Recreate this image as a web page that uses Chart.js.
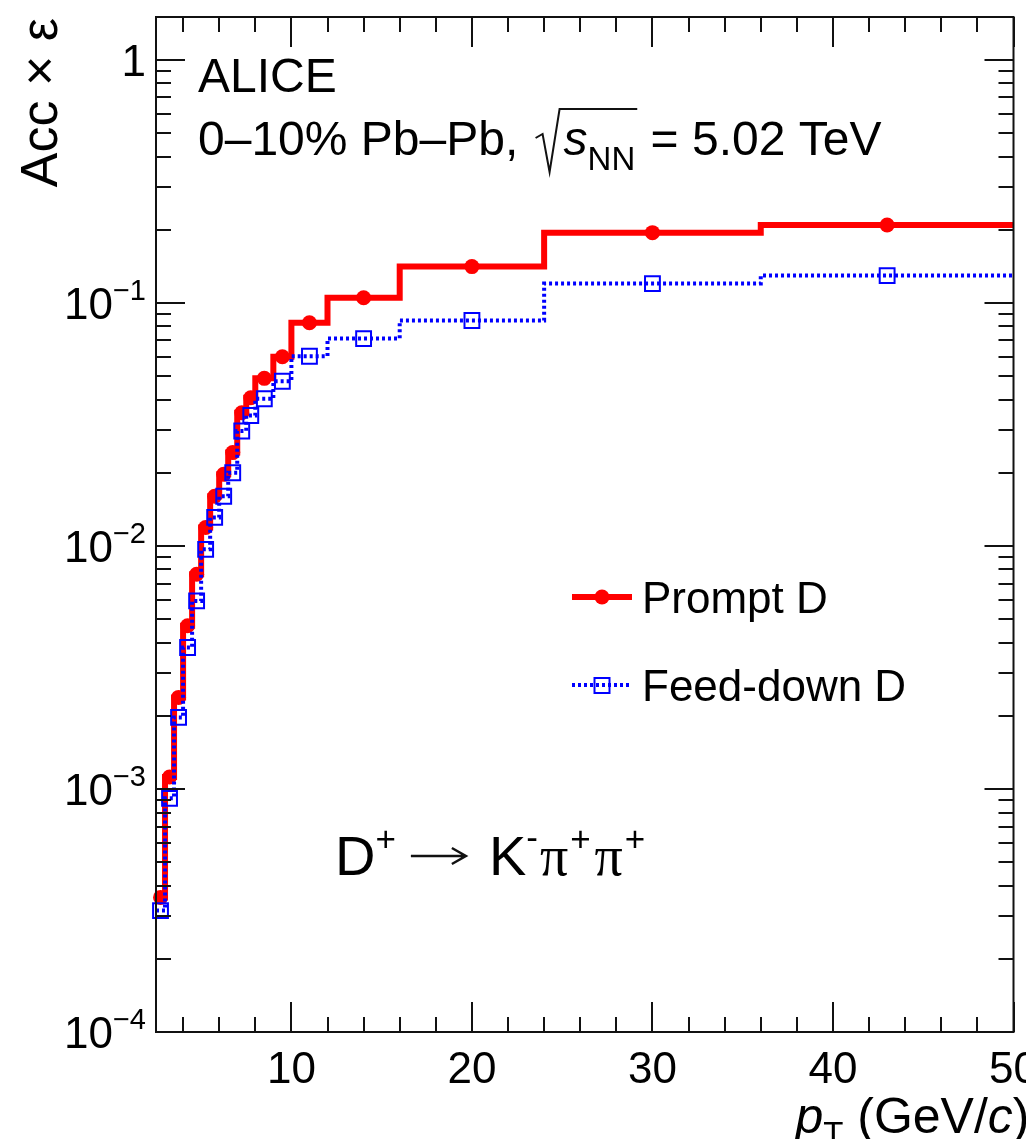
<!DOCTYPE html>
<html>
<head>
<meta charset="utf-8">
<title>D+ acceptance x efficiency</title>
<script src="https://cdn.jsdelivr.net/npm/chart.js@4/dist/chart.umd.min.js"></script>
<style>
  html, body { margin: 0; padding: 0; background: #ffffff; }
  #wrap { width: 1026px; height: 1139px; position: relative; overflow: hidden; }
  canvas { display: block; }
</style>
</head>
<body>
<div id="wrap"><canvas id="c" width="1026" height="1139"></canvas></div>
<script>
// pT bin edges (GeV/c)
const binEdges = [2.5, 3, 3.5, 4, 4.5, 5, 5.5, 6, 6.5, 7, 7.5, 8, 9, 10, 12, 16, 24, 36, 50];

// Acc x efficiency per bin
const promptD = [3.58e-4, 1.12e-3, 2.38e-3, 4.69e-3, 7.64e-3, 1.19e-2, 1.60e-2, 1.97e-2,
                 2.42e-2, 3.53e-2, 4.07e-2, 4.89e-2, 6.00e-2, 8.28e-2, 0.105, 0.141, 0.1945, 0.209];
const feedDownD = [3.16e-4, 9.15e-4, 1.97e-3, 3.82e-3, 5.94e-3, 9.68e-3, 1.31e-2, 1.60e-2,
                   2.00e-2, 2.97e-2, 3.44e-2, 4.03e-2, 4.76e-2, 6.03e-2, 7.13e-2, 8.46e-2, 0.120, 0.1295];

// axis ticks and labels
const xTickValues = [10, 20, 30, 40, 50];
const xTickLabels = ['10', '20', '30', '40', '50'];
const yTickValues = [1e-4, 1e-3, 1e-2, 1e-1, 1];
const yTickLabels = [['10', '\u22124'], ['10', '\u22123'], ['10', '\u22122'], ['10', '\u22121'], ['1', '']];

const seriesNames = ['Prompt D', 'Feed-down D'];

const RED = '#ff0000';
const BLUE = '#0000ff';
const SANS = '"Liberation Sans", Arial, Helvetica, sans-serif';

// histogram outline: one point per left bin edge, plus the closing edge
function stepPoints(vals) {
  return binEdges.map((e, i) => ({ x: e, y: vals[Math.min(i, vals.length - 1)] }));
}
// markers at bin centres
function centrePoints(vals) {
  return vals.map((v, i) => ({ x: (binEdges[i] + binEdges[i + 1]) / 2, y: v }));
}

function drawRich(ctx, pieces, x, y) {
  let cx = x;
  for (const p of pieces) {
    ctx.font = p.font;
    ctx.fillText(p.t, cx, y + (p.dy || 0));
    cx += ctx.measureText(p.t).width + (p.gap || 0);
  }
  return cx;
}
function richWidth(ctx, pieces) {
  let w = 0;
  for (const p of pieces) { ctx.font = p.font; w += ctx.measureText(p.t).width + (p.gap || 0); }
  return w;
}

const framePlugin = {
  id: 'framePlugin',
  beforeDraw(chart) {
    const ctx = chart.ctx;
    ctx.save();
    ctx.fillStyle = '#ffffff';
    ctx.fillRect(0, 0, chart.width, chart.height);
    ctx.restore();
  },
  afterDraw(chart) {
    const ctx = chart.ctx;
    const a = chart.chartArea;
    const xs = chart.scales.x, ys = chart.scales.y;
    ctx.save();
    ctx.strokeStyle = '#111111';
    ctx.lineWidth = 2;
    ctx.lineCap = 'butt';

    // frame
    ctx.strokeRect(a.left, a.top, a.right - a.left, a.bottom - a.top);

    // x ticks (bottom and top)
    ctx.beginPath();
    for (let v = 4; v <= xs.max + 1e-9; v += 2) {
      const px = Math.round(xs.getPixelForValue(v));
      const len = (v % 10 === 0) ? 30 : 15;
      ctx.moveTo(px, a.bottom); ctx.lineTo(px, a.bottom - len);
      ctx.moveTo(px, a.top); ctx.lineTo(px, a.top + len);
    }
    // y ticks (left and right)
    for (let d = -4; d <= 0; d++) {
      for (let k = 1; k <= 9; k++) {
        const v = k * Math.pow(10, d);
        if (v < ys.min * 0.999 || v > ys.max) continue;
        const py = Math.round(ys.getPixelForValue(v));
        const len = (k === 1) ? 29 : 15;
        ctx.moveTo(a.left, py); ctx.lineTo(a.left + len, py);
        ctx.moveTo(a.right, py); ctx.lineTo(a.right - len, py);
      }
    }
    ctx.stroke();

    ctx.fillStyle = '#000000';
    ctx.textBaseline = 'alphabetic';

    // x tick labels
    ctx.font = '44px ' + SANS;
    ctx.textAlign = 'center';
    xTickValues.forEach((v, i) => {
      ctx.fillText(xTickLabels[i], xs.getPixelForValue(v), a.bottom + 51);
    });

    // y tick labels
    ctx.textAlign = 'left';
    const F = 44, FS = 29;
    yTickValues.forEach((v, i) => {
      const py = ys.getPixelForValue(v);
      const [base, exp] = yTickLabels[i];
      const pieces = [{ t: base, font: F + 'px ' + SANS }];
      if (exp) pieces.push({ t: exp, font: FS + 'px ' + SANS, dy: -19 });
      const w = richWidth(ctx, pieces);
      drawRich(ctx, pieces, a.left - 10 - w, py + 16);
    });

    // y axis title
    ctx.save();
    ctx.translate(57, 18);
    ctx.rotate(-Math.PI / 2);
    ctx.textAlign = 'right';
    ctx.font = '52px ' + SANS;
    ctx.fillText('Acc \u00d7 \u03b5', 0, 0);
    ctx.restore();

    // x axis title
    const xt = [
      { t: 'p', font: 'italic 50px ' + SANS },
      { t: 'T', font: '33px ' + SANS, dy: 12 },
      { t: ' (GeV/', font: '50px ' + SANS },
      { t: 'c', font: 'italic 50px ' + SANS },
      { t: ')', font: '50px ' + SANS }
    ];
    ctx.textAlign = 'left';
    drawRich(ctx, xt, a.right + 16 - richWidth(ctx, xt), 1133);

    // header text
    ctx.font = '48px ' + SANS;
    ctx.fillText('ALICE', 198, 92);
    const B = 155;
    let x = drawRich(ctx, [{ t: '0\u201310% Pb\u2013Pb, ', font: '48px ' + SANS }], 198, B);
    const x0 = x + 4;
    const sx = drawRich(ctx, [
      { t: 's', font: 'italic 48px ' + SANS },
      { t: 'NN', font: '33px ' + SANS, dy: 15 }
    ], x0 + 28, B);
    ctx.beginPath();
    ctx.lineWidth = 2;
    ctx.moveTo(x0, B - 17);
    ctx.lineTo(x0 + 7, B - 21);
    ctx.lineTo(x0 + 14, B + 17);
    ctx.lineTo(x0 + 24, B - 46);
    ctx.lineTo(sx + 2, B - 46);
    ctx.stroke();
    drawRich(ctx, [{ t: ' = 5.02 TeV', font: '48px ' + SANS }], sx + 2, B);

    // decay channel
    const DF = 56, DS = 35;
    const DB = 875;
    let dx = drawRich(ctx, [
      { t: 'D', font: DF + 'px ' + SANS },
      { t: '+', font: DS + 'px ' + SANS, dy: -24 }
    ], 335, DB);
    dx += 15;
    const ay = DB - 19;
    ctx.beginPath();
    ctx.lineWidth = 2.5;
    ctx.moveTo(dx, ay); ctx.lineTo(dx + 54, ay);
    ctx.moveTo(dx + 41, ay - 8); ctx.lineTo(dx + 55, ay); ctx.lineTo(dx + 41, ay + 8);
    ctx.stroke();
    dx += 78;
    drawRich(ctx, [
      { t: 'K', font: DF + 'px ' + SANS },
      { t: '-', font: DS + 'px ' + SANS, dy: -26, gap: 2 },
      { t: '\u03c0', font: DF + 'px "Liberation Serif", serif', gap: 2 },
      { t: '+', font: DS + 'px ' + SANS, dy: -24, gap: 4 },
      { t: '\u03c0', font: DF + 'px "Liberation Serif", serif', gap: 2 },
      { t: '+', font: DS + 'px ' + SANS, dy: -24 }
    ], dx, DB);

    // legend
    ctx.font = '44px ' + SANS;
    // prompt
    ctx.beginPath();
    ctx.strokeStyle = RED;
    ctx.lineWidth = 6;
    ctx.moveTo(572, 597); ctx.lineTo(632, 597);
    ctx.stroke();
    ctx.beginPath();
    ctx.fillStyle = RED;
    ctx.arc(602, 597, 7.5, 0, Math.PI * 2);
    ctx.fill();
    ctx.fillStyle = '#000000';
    ctx.fillText(seriesNames[0], 642, 613);
    // feed-down
    ctx.beginPath();
    ctx.strokeStyle = BLUE;
    ctx.lineWidth = 4;
    ctx.setLineDash([3, 3]);
    ctx.moveTo(572, 685); ctx.lineTo(632, 685);
    ctx.stroke();
    ctx.setLineDash([]);
    ctx.lineWidth = 2;
    ctx.strokeRect(594.5, 678, 15, 15);
    ctx.fillStyle = '#000000';
    ctx.fillText(seriesNames[1], 642, 701);

    ctx.restore();
  }
};

new Chart(document.getElementById('c'), {
  type: 'line',
  data: {
    datasets: [
      {
        label: seriesNames[1] + ' markers',
        data: centrePoints(feedDownD),
        showLine: false,
        pointStyle: 'rect',
        pointRadius: 10.5,
        pointBorderWidth: 2,
        pointBorderColor: BLUE,
        pointBackgroundColor: 'rgba(0,0,0,0)',
        order: 0,
        clip: false
      },
      {
        label: seriesNames[1],
        data: stepPoints(feedDownD),
        stepped: 'before',
        borderColor: BLUE,
        borderWidth: 4,
        borderDash: [3, 3],
        pointRadius: 0,
        fill: false,
        order: 1,
        clip: false
      },
      {
        label: seriesNames[0] + ' markers',
        data: centrePoints(promptD),
        showLine: false,
        pointStyle: 'circle',
        pointRadius: 7.5,
        pointBorderWidth: 0,
        pointBackgroundColor: RED,
        order: 2,
        clip: false
      },
      {
        label: seriesNames[0],
        data: stepPoints(promptD),
        stepped: 'before',
        borderColor: RED,
        borderWidth: 6,
        borderJoinStyle: 'miter',
        pointRadius: 0,
        fill: false,
        order: 3,
        clip: false
      }
    ]
  },
  options: {
    responsive: false,
    animation: false,
    devicePixelRatio: 1,
    layout: { padding: { left: 156, right: 6, top: 17, bottom: 107 } },
    scales: {
      x: { type: 'linear', min: 2.5, max: 50, display: false },
      y: { type: 'logarithmic', min: 1e-4, max: 1.5, display: false }
    },
    plugins: {
      legend: { display: false },
      tooltip: { enabled: false },
      title: { display: false }
    },
    events: []
  },
  plugins: [framePlugin]
});
</script>
</body>
</html>
